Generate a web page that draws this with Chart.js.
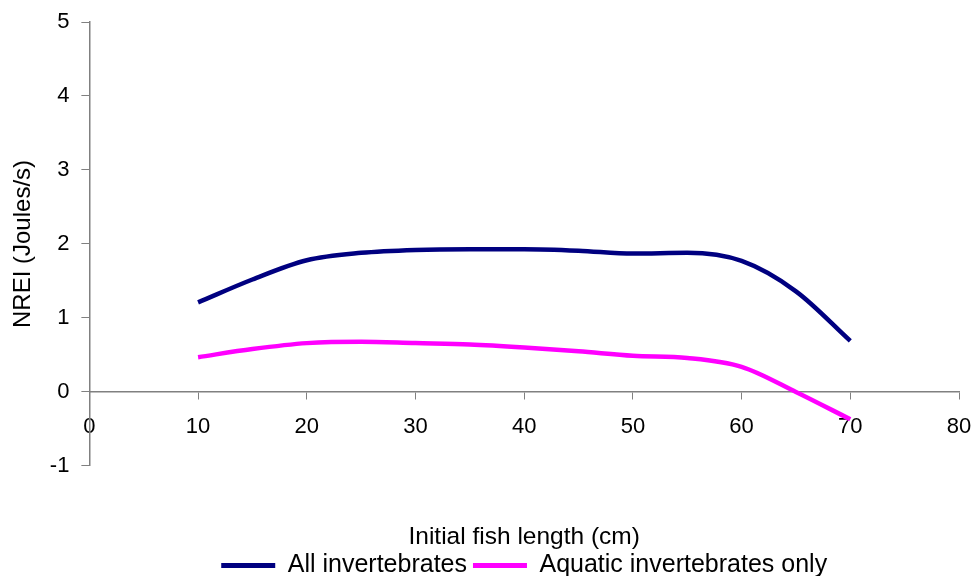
<!DOCTYPE html>
<html>
<head>
<meta charset="utf-8">
<script src="https://cdn.jsdelivr.net/npm/chart.js@4.4.0/dist/chart.umd.min.js"></script>
<style>
  html, body { margin: 0; padding: 0; background: #fff; }
  #wrap { width: 976px; height: 576px; }
</style>
</head>
<body>
<div id="wrap"><canvas id="nrei"></canvas></div>
<script>
// initial fish length (cm)
const lengths = [10, 15, 20, 25, 30, 35, 40, 45, 50, 55, 60, 65, 70];
// NREI (Joules/s)
const allInvertebrates = [1.21, 1.52, 1.78, 1.88, 1.92, 1.93, 1.93, 1.91, 1.87, 1.88, 1.77, 1.36, 0.69];
const aquaticOnly = [0.47, 0.58, 0.66, 0.68, 0.66, 0.64, 0.60, 0.55, 0.49, 0.46, 0.34, 0.0, -0.37];

const xTicks = [0, 10, 20, 30, 40, 50, 60, 70, 80];
const yTicks = [-1, 0, 1, 2, 3, 4, 5];

function toPoints(ys) {
    return lengths.map(function (x, i) { return { x: x, y: ys[i] }; });
}

const family = '"Liberation Sans", Arial, sans-serif';
const tickFont = { family: family, size: 22 };
const labelFont = { family: family, size: 24 };
const axisGrey = '#808080';

new Chart(document.getElementById('nrei'), {
    type: 'line',
    data: {
        datasets: [{
            label: 'All invertebrates',
            data: toPoints(allInvertebrates),
            borderColor: '#000080',
            backgroundColor: '#000080',
            borderWidth: 4.5,
            pointRadius: 0,
            cubicInterpolationMode: 'monotone'
        }, {
            label: 'Aquatic invertebrates only',
            data: toPoints(aquaticOnly),
            borderColor: '#ff00ff',
            backgroundColor: '#ff00ff',
            borderWidth: 4.5,
            pointRadius: 0,
            cubicInterpolationMode: 'monotone'
        }]
    },
    options: {
        responsive: true,
        maintainAspectRatio: false,
        animation: false,
        layout: { padding: { top: 0, right: 0, bottom: -12, left: 9 } },
        plugins: {
            tooltip: { enabled: false },
            legend: {
                position: 'bottom',
                fullSize: false,
                labels: {
                    color: '#000',
                    font: { family: family, size: 25 },
                    boxWidth: 54,
                    boxHeight: 5,
                    padding: 6,
                    // plain filled bars, no stroke around them
                    generateLabels: function (chart) {
                        return Chart.defaults.plugins.legend.labels.generateLabels(chart).map(function (item) {
                            item.lineWidth = 0;
                            return item;
                        });
                    }
                },
                // the x axis title sits above the legend, far below the x axis line
                title: {
                    display: true,
                    text: 'Initial fish length (cm)',
                    color: '#000',
                    font: { family: family, size: 24.5, lineHeight: 0.9 },
                    padding: { top: 59, bottom: 0 }
                }
            }
        },
        scales: {
            x: {
                type: 'linear',
                position: { y: 0 },
                min: 0,
                max: 80,
                afterBuildTicks: function (s) { s.ticks = xTicks.map(function (v) { return { value: v }; }); },
                afterFit: function (s) { s.paddingRight = 17; },
                border: { display: true, color: axisGrey, width: 1.5 },
                grid: { display: true, drawOnChartArea: false, drawTicks: true, tickLength: 7, color: axisGrey },
                ticks: { color: '#000', font: tickFont, padding: 15, maxRotation: 0 }
            },
            y: {
                min: -1,
                max: 5,
                afterBuildTicks: function (s) { s.ticks = yTicks.map(function (v) { return { value: v }; }); },
                afterFit: function (s) { s.paddingTop = 22; },
                border: { display: true, color: axisGrey, width: 1.5 },
                grid: { display: true, drawOnChartArea: false, drawTicks: true, tickLength: 8, color: axisGrey },
                ticks: { color: '#000', font: tickFont, padding: 12 },
                title: {
                    display: true,
                    text: 'NREI (Joules/s)',
                    color: '#000',
                    font: labelFont,
                    padding: { top: 0, bottom: 0 }
                }
            }
        }
    }
});
</script>
</body>
</html>
